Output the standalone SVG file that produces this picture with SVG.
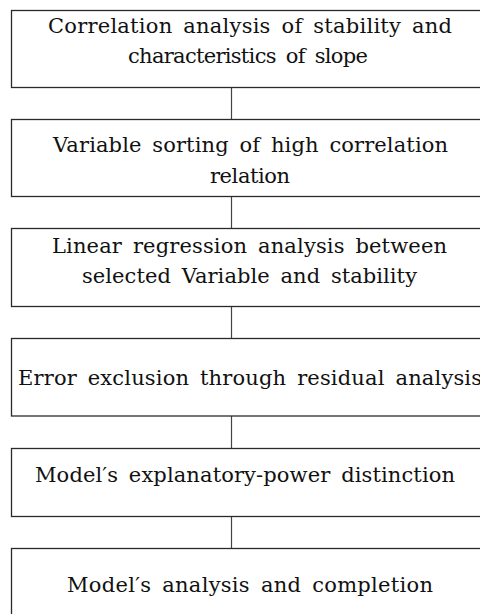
<svg xmlns="http://www.w3.org/2000/svg" width="480" height="614" viewBox="0 0 480 614">
  <style>
    .box { fill: #ffffff; stroke: #2a2a2a; stroke-width: 1.3; }
    .link { stroke: #444444; stroke-width: 1.2; fill: none; }
    text { font-family: 'DejaVu Serif', 'Liberation Serif', serif; font-size: 21px; fill: #111111; word-spacing: 4px; }
  </style>
  <rect x="0" y="0" width="480" height="614" fill="#ffffff"/>

  <!-- vertical links between consecutive steps -->
  <g id="connectors">
    <line class="link" x1="231.5" y1="87" x2="231.5" y2="119"/>
    <line class="link" x1="231.5" y1="197" x2="231.5" y2="228"/>
    <line class="link" x1="231.5" y1="307" x2="231.5" y2="338"/>
    <line class="link" x1="231.5" y1="416" x2="231.5" y2="448"/>
    <line class="link" x1="231.5" y1="517" x2="231.5" y2="548"/>
  </g>

  <g id="step1">
    <rect class="box" x="11.5" y="10.5" width="480" height="77"/>
    <text x="48" y="33" textLength="404" lengthAdjust="spacing">Correlation analysis of stability and</text>
    <text x="128" y="63" textLength="240" lengthAdjust="spacing">characteristics of slope</text>
  </g>

  <g id="step2">
    <rect class="box" x="11.5" y="119.5" width="480" height="77"/>
    <text x="53" y="152" textLength="395" lengthAdjust="spacing">Variable sorting of high correlation</text>
    <text x="210" y="183" textLength="80" lengthAdjust="spacing">relation</text>
  </g>

  <g id="step3">
    <rect class="box" x="11.5" y="228.5" width="480" height="78"/>
    <text x="52" y="253" textLength="395" lengthAdjust="spacing">Linear regression analysis between</text>
    <text x="82" y="283" textLength="335" lengthAdjust="spacing">selected Variable and stability</text>
  </g>

  <g id="step4">
    <rect class="box" x="11.5" y="338.5" width="480" height="77.5"/>
    <text x="18" y="385" textLength="464" lengthAdjust="spacing">Error exclusion through residual analysis</text>
  </g>

  <g id="step5">
    <rect class="box" x="11.5" y="448.5" width="480" height="68"/>
    <text x="35" y="482" textLength="420" lengthAdjust="spacing">Model′s explanatory-power distinction</text>
  </g>

  <g id="step6">
    <rect class="box" x="11.5" y="548.5" width="480" height="80"/>
    <text x="67" y="592" textLength="366" lengthAdjust="spacing">Model′s analysis and completion</text>
  </g>
</svg>
